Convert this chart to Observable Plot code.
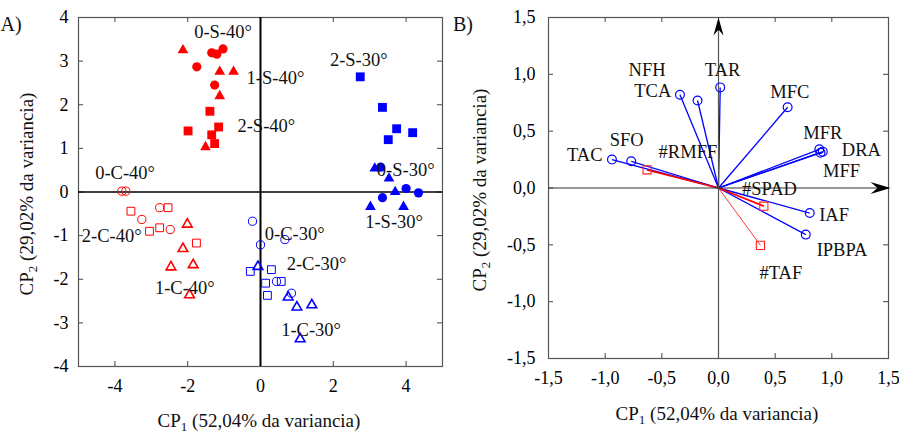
<!DOCTYPE html>
<html><head><meta charset="utf-8">
<script src="https://cdn.jsdelivr.net/npm/d3@7"></script>
<script src="https://cdn.jsdelivr.net/npm/@observablehq/plot@0.6"></script>
<style>
body{margin:0;background:#fff;}
#wrap{position:relative;width:899px;height:437px;overflow:hidden;background:#fff;}
#wrap svg{position:absolute;top:0;}
</style></head><body><div id="wrap"></div>
<script>
// ---------- Panel A: scores ----------
const scoreGroups = ["0-S-40°","1-S-40°","2-S-40°","0-S-30°","1-S-30°","2-S-30°","0-C-40°","1-C-40°","2-C-40°","0-C-30°","1-C-30°","2-C-30°"];
const scoreCP1 = [
  [-1.34,-1.20,-1.03,-1.75,-1.26],
  [-2.13,-1.12,-0.74,-1.12,-1.51],
  [-1.39,-1.99,-1.15,-1.34,-1.26],
  [4.00,4.34,3.35,3.30],
  [3.14,3.53,3.70,3.02,3.93],
  [2.74,3.35,3.74,3.51,4.18],
  [-3.81,-3.70,-3.26,-2.77,-2.48],
  [-2.01,-2.13,-1.85,-2.46,-1.95],
  [-3.56,-2.54,-3.05,-2.77,-1.76],
  [-0.22,0.00,0.67,0.44,0.85],
  [-0.07,0.76,1.00,1.41,1.09],
  [-0.28,0.30,0.14,0.57,0.19]
];
const scoreCP2 = [
  [3.19,3.16,3.28,2.87,2.45],
  [3.25,2.76,2.76,2.20,1.03],
  [1.85,1.40,1.49,1.31,1.11],
  [0.08,-0.02,-0.13,0.57],
  [0.54,0.31,0.00,-0.34,-0.34],
  [2.64,1.94,1.45,1.20,1.36],
  [0.02,0.02,-0.63,-0.36,-0.86],
  [-0.74,-1.30,-1.67,-1.72,-2.36],
  [-0.44,-0.36,-0.90,-0.82,-1.17],
  [-0.67,-1.21,-1.09,-2.05,-2.32],
  [-1.71,-2.41,-2.64,-2.59,-3.37],
  [-1.82,-1.78,-2.09,-2.05,-2.37]
];
const groupLabelCP1 = [-1.03,0.41,0.16,3.99,3.67,2.70,-3.72,-2.08,-4.09,0.94,1.39,1.54];
const groupLabelCP2 = [3.67,2.61,1.51,0.50,-0.69,3.02,0.44,-2.20,-1.02,-0.96,-3.16,-1.65];
const xTicksA = [-4,-2,0,2,4];
const yTicksA = [-4,-3,-2,-1,0,1,2,3,4];

// ---------- Panel B: loadings ----------
const variables = ["TAC","SFO","NFH","TCA","TAR","MFC","MFR","DRA","MFF","IAF","IPBPA","#RMFF","#SPAD","#TAF"];
const loadCP1 = [-0.94,-0.77,-0.185,-0.34,0.015,0.61,0.89,0.92,0.90,0.805,0.77,-0.63,0.40,0.37];
const loadCP2 = [0.25,0.235,0.77,0.82,0.885,0.71,0.34,0.32,0.31,-0.22,-0.41,0.16,-0.16,-0.505];
const varLabelCP1 = [-1.18,-0.81,-0.63,-0.58,0.035,0.63,0.92,1.26,1.085,1.02,1.09,-0.27,0.45,0.55];
const varLabelCP2 = [0.29,0.42,1.04,0.855,1.04,0.846,0.48,0.33,0.15,-0.24,-0.55,0.32,-0.01,-0.75];
const ticksB = [-1.5,-1.0,-0.5,0.0,0.5,1.0,1.5];

const FONT = "Liberation Serif";
const fmtB = d => d.toFixed(1).replace(".", ",");

// rows
const scoreRows = scoreGroups.flatMap((g, i) => scoreCP1[i].map((x, j) => ({group: g, cp1: x, cp2: scoreCP2[i][j]})));
const labelRows = scoreGroups.map((g, i) => ({group: g, cp1: groupLabelCP1[i], cp2: groupLabelCP2[i]}));
const loadRows = variables.map((v, i) => ({name: v, cp1: loadCP1[i], cp2: loadCP2[i], lx: varLabelCP1[i], ly: varLabelCP2[i], sup: v.startsWith("#")}));

// ----- Panel A -----
const HA = 437, WA = 450, mlA = 78, mrA = 8, mtA = 17, mbA = 71;
const innerWA = WA - mlA - mrA, innerHA = HA - mtA - mbA;
const groupMarks = scoreGroups.map(g => {
  const color = g.endsWith("40°") ? "#ff0000" : "#0000ff";
  const filled = g.includes("-S-");
  const dose = g[0];
  const symbol = dose === "0" ? "circle" : dose === "1" ? "triangle" : "square";
  const r = dose === "0" ? (filled ? 4.6 : 4.1) : dose === "1" ? (filled ? 4.0 : 3.6) : (filled ? 5.0 : 4.4);
  return Plot.dot(scoreRows.filter(d => d.group === g), {
    x: "cp1", y: "cp2", symbol, r,
    fill: filled ? color : "none",
    stroke: filled ? "none" : color,
    strokeWidth: dose === "1" ? 1.6 : 1
  });
});

const plotA = Plot.plot({
  width: WA, height: HA,
  marginLeft: mlA, marginRight: mrA, marginTop: mtA, marginBottom: mbA,
  style: {fontFamily: FONT, fontSize: "18px", color: "#000", background: "transparent", overflow: "visible"},
  x: {domain: [-5, 5]},
  y: {domain: [-4, 4]},
  marks: [
    Plot.axisX({ticks: xTicksA, tickSize: 0, tickPadding: 13, label: null, tickFormat: d => String(d), fontSize: 18}),
    Plot.axisY({ticks: yTicksA, tickSize: 0, tickPadding: 10, label: null, tickFormat: d => String(d), fontSize: 18}),
    Plot.ruleX(xTicksA, {x: d => d, insetTop: innerHA - 5, stroke: "#444"}),
    Plot.ruleX(xTicksA, {x: d => d, insetBottom: innerHA - 5, stroke: "#444"}),
    Plot.ruleY(yTicksA, {y: d => d, insetRight: innerWA - 5, stroke: "#444"}),
    Plot.ruleY(yTicksA, {y: d => d, insetLeft: innerWA - 5, stroke: "#444"}),
    Plot.frame({stroke: "#555", strokeWidth: 1.2}),
    Plot.ruleX([0], {stroke: "#000", strokeWidth: 2}),
    Plot.ruleY([0], {stroke: "#000", strokeWidth: 1.6}),
    ...groupMarks,
    Plot.text(labelRows, {x: "cp1", y: "cp2", text: "group", fontSize: 18.5, fill: "#111", textAnchor: "middle", lineAnchor: "middle"})
  ]
});

// ----- Panel B -----
const HB = 437, WB = 449, mlB = 98, mrB = 11, mtB = 17, mbB = 79;
const innerWB = WB - mlB - mrB, innerHB = HB - mtB - mbB;
const arrowUp = {draw(ctx) { ctx.moveTo(0, 0); ctx.lineTo(5, 18); ctx.lineTo(0, 12); ctx.lineTo(-5, 18); ctx.closePath(); }};
const arrowRight = {draw(ctx) { ctx.moveTo(0, 0); ctx.lineTo(-20, -6); ctx.lineTo(-13, 0); ctx.lineTo(-20, 6); ctx.closePath(); }};
const xMaxB = ticksB[ticksB.length - 1], yMaxB = ticksB[ticksB.length - 1];

const plotB = Plot.plot({
  width: WB, height: HB,
  marginLeft: mlB, marginRight: mrB, marginTop: mtB, marginBottom: mbB,
  style: {fontFamily: FONT, fontSize: "18px", color: "#000", background: "transparent", overflow: "visible"},
  x: {domain: [-1.5, 1.5]},
  y: {domain: [-1.5, 1.5]},
  marks: [
    Plot.axisX({ticks: ticksB, tickSize: 0, tickPadding: 13, label: null, tickFormat: fmtB, fontSize: 18}),
    Plot.axisY({ticks: ticksB, tickSize: 0, tickPadding: 13, label: null, tickFormat: fmtB, fontSize: 18}),
    Plot.ruleX(ticksB, {x: d => d, insetTop: innerHB - 5, stroke: "#444"}),
    Plot.ruleX(ticksB, {x: d => d, insetBottom: innerHB - 5, stroke: "#444"}),
    Plot.ruleY(ticksB, {y: d => d, insetRight: innerWB - 5, stroke: "#444"}),
    Plot.ruleY(ticksB, {y: d => d, insetLeft: innerWB - 5, stroke: "#444"}),
    Plot.frame({stroke: "#555", strokeWidth: 1.2}),
    Plot.link(loadRows.filter(d => !d.sup), {x1: 0, y1: 0, x2: "cp1", y2: "cp2", stroke: "#0000ff", strokeWidth: 1.3}),
    Plot.link(loadRows.filter(d => d.sup), {x1: 0, y1: 0, x2: "cp1", y2: "cp2", stroke: "#ff0000", strokeWidth: d => d.name === "#TAF" ? 0.8 : 1.8}),
    Plot.ruleX([0], {stroke: "#555", strokeWidth: 1.2, insetTop: 4}),
    Plot.ruleY([0], {stroke: "#333", strokeWidth: 1.2, insetRight: 4}),
    Plot.dot([{x: 0, y: yMaxB}], {x: "x", y: "y", symbol: arrowUp, fill: "#000", stroke: "none"}),
    Plot.dot([{x: xMaxB, y: 0}], {x: "x", y: "y", symbol: arrowRight, fill: "#000", stroke: "none", dx: 2}),
    Plot.dot(loadRows.filter(d => !d.sup), {x: "cp1", y: "cp2", r: 4.4, stroke: "#0000ff", fill: "none", strokeWidth: 1.2}),
    Plot.dot(loadRows.filter(d => d.sup), {x: "cp1", y: "cp2", symbol: "square", r: 4.6, stroke: "#ff2020", fill: "none", strokeWidth: 1.1}),
    Plot.text(loadRows, {x: "lx", y: "ly", text: "name", fontSize: 18.5, fill: "#111", textAnchor: "middle", lineAnchor: "middle"})
  ]
});

// titles with subscripts
function addTitles(svgNode, opts) {
  const svg = d3.select(svgNode);
  const tx = svg.append("text").attr("x", opts.xx).attr("y", opts.xy).attr("text-anchor", "middle")
    .attr("font-family", FONT).attr("font-size", 19).attr("fill", "#111");
  tx.append("tspan").text("CP");
  tx.append("tspan").attr("dy", 4).attr("font-size", 13).text("1");
  tx.append("tspan").attr("dy", -4).text(" (52,04% da variancia)");
  const ty = svg.append("text").attr("transform", `translate(${opts.yx},${opts.yy}) rotate(-90)`).attr("text-anchor", "middle")
    .attr("font-family", FONT).attr("font-size", 19).attr("fill", "#111");
  ty.append("tspan").text("CP");
  ty.append("tspan").attr("dy", 4).attr("font-size", 13).text("2");
  ty.append("tspan").attr("dy", -4).text(" (29,02% da variancia)");
  svg.append("text").attr("x", opts.px).attr("y", 31).attr("font-family", FONT).attr("font-size", 20).attr("fill", "#111").text(opts.panel);
}
addTitles(plotA, {xx: 259, xy: 427, yx: 33, yy: 194, px: 11, panel: "A)"});
addTitles(plotB, {xx: 267, xy: 420, yx: 36, yy: 190, px: 13, panel: "B)"});

const wrap = document.getElementById("wrap");
plotA.style.left = "0px";
plotB.style.left = "450px";
wrap.appendChild(plotA);
wrap.appendChild(plotB);
</script>
</body></html>
